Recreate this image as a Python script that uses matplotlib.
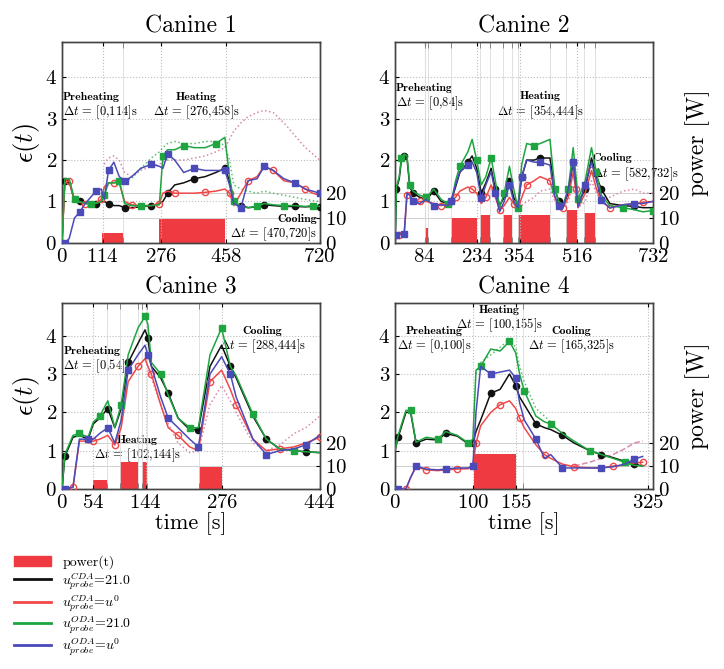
import numpy as np
import matplotlib
matplotlib.use('Agg')
import matplotlib.pyplot as plt
from matplotlib.patches import Patch
from matplotlib.lines import Line2D

plt.rcParams['font.family'] = 'serif'
plt.rcParams['font.serif'] = ['cmr10', 'DejaVu Serif']
plt.rcParams['mathtext.fontset'] = 'cm'
plt.rcParams['axes.unicode_minus'] = False
plt.rcParams['axes.formatter.use_mathtext'] = True

N = None

# ---------------- Canine 1 ----------------
t1 = [0, 8, 20, 35, 50, 65, 80, 95, 110, 118, 130, 145, 160, 175, 195, 220, 250, 272, 282, 295,
      315, 340, 370, 400, 430, 455, 468, 480, 500, 520, 545, 565, 590, 620, 650, 680, 700, 720]
cda21_1 = [0.0, 1.5, 1.5, 1.0, 1.0, 0.95, 0.95, 0.95, 1.0, 1.0, 0.95, 0.9, 0.9, 0.85, 0.85, 0.87, 0.9, 0.95, 1.0, 1.2,
           1.4, 1.45, 1.55, 1.6, 1.7, 1.8, 1.5, 0.95, 0.9, 0.85, 0.87, 0.92, 0.9, 0.88, 0.88, 0.87, 0.88, 0.87]
cdau0_1 = [0.0, 1.45, 1.5, 1.0, 0.98, 0.95, 0.95, 0.97, 1.05, 1.35, 1.45, 1.45, 1.45, 1.0, 0.92, 0.9, 0.9, 0.95, 1.2, 1.25,
           1.2, 1.2, 1.2, 1.22, 1.25, 1.3, 1.2, 0.9, 1.2, 1.5, 1.6, 1.85, 1.75, 1.5, 1.45, 1.3, 1.2, 1.15]
oda21_1 = [0.0, 1.55, 1.55, 1.05, 1.0, 0.95, 0.95, 0.95, 1.0, 1.15, 1.45, 1.45, 1.5, 0.95, 0.9, 0.9, 0.9, 0.92, 2.1, 2.25,
           2.25, 2.35, 2.3, 2.3, 2.4, 2.55, 1.6, 1.0, 0.88, 0.85, 0.88, 0.95, 0.92, 0.9, 0.9, 0.88, 0.9, 0.88]
odau0_1 = [0.0, 0.0, 0.1, 0.6, 0.75, 0.95, 1.1, 1.25, 1.3, 1.05, 1.75, 1.95, 1.6, 1.5, 1.6, 1.8, 1.9, 1.85, 1.8, 2.15,
           2.0, 1.7, 1.8, 1.75, 1.75, 1.75, 1.4, 0.95, 0.85, 1.5, 1.55, 1.85, 1.75, 1.55, 1.45, 1.3, 1.25, 1.2]
dot_red_1 = [N, N, N, N, N, N, N, N, N, 1.9, 2.05, 2.1, 2.0, 1.7, 1.6, 1.75, 1.85, 1.9, 1.95, 2.0,
             2.0, 2.0, 2.05, 2.1, 2.2, 2.3, 2.5, 2.7, 2.9, 3.05, 3.15, 3.2, 3.15, 2.9, 2.6, 2.3, 2.15, 2.0]
dot_grn_1 = [N, N, N, N, N, N, N, N, N, 1.3, 1.4, 1.5, 1.55, 1.5, 1.55, 1.8, 2.05, 2.2, 2.3, 2.4,
             2.45, 2.4, 2.4, 2.45, 2.45, 2.35, 2.0, 1.4, 1.3, 1.25, 1.2, 1.25, 1.2, 1.15, 1.1, 1.05, 1.02, 1.0]
bar_start_1 = [112, 272]
bar_end_1 = [170, 455]
bar_pow_1 = [4, 9.5]
xticks_1 = [0, 114, 276, 458, 720]
edges_1 = [114, 170, 276, 458]

# ---------------- Canine 2 ----------------
t2 = [0, 4, 12, 18, 26, 34, 42, 51, 70, 89, 110, 131, 150, 159, 172, 184, 207, 219, 232, 245,
      258, 273, 285, 297, 310, 325, 337, 349, 360, 374, 395, 412, 440, 454, 465, 477, 492, 506, 513, 520,
      540, 558, 572, 586, 610, 647, 680, 704, 732]
cda21_2 = [0.0, 1.3, 1.55, 2.0, 2.1, 2.05, 1.35, 1.2, 1.1, 1.05, 1.25, 1.0, 0.95, 1.0, 1.35, 1.7, 1.95, 2.1, 1.8, 1.2,
           1.45, 1.8, 1.3, 0.9, 1.1, 1.5, 1.1, 0.9, 1.6, 2.0, 2.0, 2.05, 2.05, 1.3, 1.0, 0.9, 1.2, 1.95, 1.5, 0.95,
           1.3, 2.05, 1.6, 1.3, 0.95, 0.9, 0.88, 0.85, 0.85]
cdau0_2 = [0.0, 0.2, 0.2, 0.2, 0.2, 1.15, 1.2, 1.0, 1.0, 1.0, 0.95, 0.9, 0.95, 1.0, 1.1, 1.25, 1.35, 1.3, 1.2, 0.95,
           1.1, 1.4, 1.1, 0.8, 0.9, 1.1, 0.95, 0.8, 1.1, 1.4, 1.5, 1.6, 1.5, 1.1, 0.9, 0.85, 1.1, 1.7, 1.3, 0.85,
           1.2, 1.75, 1.3, 1.0, 0.85, 0.92, 0.95, 0.98, 1.0]
oda21_2 = [0.0, 1.35, 1.6, 2.05, 2.15, 2.1, 1.4, 1.25, 1.15, 1.1, 1.3, 1.05, 0.95, 0.95, 1.5, 1.85, 2.2, 2.5, 2.0, 1.4,
           1.6, 2.05, 1.5, 0.85, 1.2, 1.85, 1.3, 0.85, 1.9, 2.4, 2.35, 2.4, 2.5, 1.3, 1.0, 0.92, 1.3, 2.3, 1.7, 1.05,
           1.5, 2.3, 1.7, 1.15, 0.9, 0.85, 0.8, 0.75, 0.78]
odau0_2 = [0.0, 0.2, 0.22, 0.22, 0.22, 1.2, 1.15, 1.0, 0.95, 1.05, 0.9, 0.92, 0.9, 1.0, 1.4, 1.72, 1.88, 1.95, 1.7, 1.08,
           1.4, 1.72, 1.2, 0.75, 1.0, 1.4, 1.0, 0.84, 1.6, 2.0, 1.95, 1.95, 1.88, 1.12, 0.9, 0.84, 1.3, 1.95, 1.4, 0.87,
           1.4, 1.95, 1.5, 1.04, 0.84, 0.92, 0.95, 0.95, 1.0]
dot_red_2 = [N, N, N, N, N, N, N, N, N, N, N, N, N, N, N, N, N, N, N, N,
             N, N, N, N, N, N, N, N, 0.9, 1.0, 1.1, 1.25, 1.3, 1.0, 0.85, 0.85, 1.0, 1.4, 1.2, 0.85,
             1.0, 1.5, 1.2, 1.0, 1.1, 1.25, 1.3, 1.2, 1.2]
dot_grn_2 = [N] * 49
bar_start_2 = [85, 158, 240, 306, 350, 485, 537]
bar_end_2 = [95, 234, 270, 331, 440, 516, 569]
bar_pow_2 = [6, 10, 11, 11, 11, 13, 12]
xticks_2 = [84, 234, 354, 516, 732]
edges_2 = [85, 95, 158, 234, 240, 270, 306, 331, 350, 440, 485, 516, 537, 569]

# ---------------- Canine 3 ----------------
t3 = [0, 5, 19, 30, 45, 54, 65, 79, 91, 102, 114, 131, 143, 148, 154, 170, 183, 200, 220, 235,
      255, 275, 290, 300, 329, 352, 375, 400, 420, 444]
cda21_3 = [0.0, 0.85, 1.35, 1.4, 1.3, 1.7, 1.85, 2.1, 1.6, 2.1, 3.3, 3.8, 4.15, 3.95, 3.2, 2.9, 2.5, 1.85, 1.55, 1.55,
           3.2, 3.75, 3.2, 2.9, 1.9, 1.3, 1.05, 1.0, 0.97, 0.95]
cdau0_3 = [0.0, 0.0, 0.05, 1.25, 1.25, 1.25, 1.3, 1.4, 1.15, 1.6, 2.8, 3.2, 3.4, 3.2, 3.0, 2.2, 1.6, 1.4, 1.1, 1.0,
           2.8, 3.1, 2.6, 2.2, 1.3, 1.0, 1.05, 1.1, 1.2, 1.35]
oda21_3 = [0.0, 0.9, 1.4, 1.45, 1.35, 1.75, 1.9, 2.3, 1.6, 2.2, 3.5, 4.2, 4.5, 4.3, 3.3, 3.0, 2.45, 1.85, 1.6, 1.6,
           3.5, 4.2, 3.2, 2.95, 1.95, 1.3, 1.05, 1.0, 0.97, 0.95]
odau0_3 = [0.0, 0.0, 0.05, 1.3, 1.3, 1.3, 1.45, 1.6, 1.2, 1.8, 3.1, 3.5, 3.75, 3.5, 3.2, 2.4, 1.85, 1.6, 1.3, 1.1,
           3.0, 3.45, 3.0, 2.4, 1.3, 0.9, 1.0, 1.05, 1.15, 1.4]
dot_red_3 = [N, N, N, N, N, N, N, N, N, N, N, N, N, 3.1, 2.9, 2.2, 1.7, 1.2, 0.95, 1.0,
             2.2, 2.7, 2.3, 2.0, 1.2, 1.0, 1.15, 1.45, 1.6, 1.9]
dot_grn_3 = [N] * 30
bar_start_3 = [54, 100, 137, 236]
bar_end_3 = [78, 131, 146, 276]
bar_pow_3 = [4, 11.5, 11.5, 9.5]
xticks_3 = [0, 54, 144, 276, 444]
edges_3 = [54, 78, 100, 131, 137, 146, 236]

# ---------------- Canine 4 ----------------
t4 = [0, 4, 14, 20, 27, 40, 55, 65, 80, 94, 100, 104, 110, 123, 135, 147, 155, 160, 166, 181,
      192, 200, 215, 230, 250, 265, 280, 295, 307, 318]
cda21_4 = [1.0, 1.35, 2.0, 2.0, 1.2, 1.3, 1.28, 1.45, 1.38, 1.18, 1.2, 1.5, 1.8, 2.5, 2.6, 3.0, 2.7, 2.4, 2.2, 1.7,
           1.6, 1.55, 1.4, 1.2, 1.0, 0.9, 0.82, 0.72, 0.65, 0.6]
cdau0_4 = [0.0, 0.0, 0.0, 0.3, 0.58, 0.5, 0.48, 0.5, 0.52, 0.53, 0.6, 1.2, 1.65, 2.0, 2.2, 2.3, 2.1, 1.85, 1.6, 1.15,
           0.9, 0.8, 0.65, 0.58, 0.55, 0.55, 0.6, 0.62, 0.68, 0.7]
oda21_4 = [1.0, 1.4, 2.05, 2.05, 1.22, 1.35, 1.3, 1.5, 1.4, 1.2, 1.3, 3.1, 3.2, 3.65, 3.6, 3.85, 3.55, 3.0, 2.55, 1.9,
           1.75, 1.7, 1.45, 1.25, 1.0, 0.9, 0.8, 0.7, 0.62, 0.6]
odau0_4 = [0.0, 0.0, 0.0, 0.3, 0.6, 0.52, 0.5, 0.52, 0.55, 0.55, 0.6, 2.0, 3.2, 3.0, 3.05, 3.1, 2.9, 2.25, 1.8, 1.3,
           0.8, 0.9, 0.55, 0.55, 0.55, 0.55, 0.58, 0.65, 0.78, 0.85]
dot_red_4 = [N, N, N, N, N, N, N, N, N, N, N, N, N, N, N, N, N, N, N, N,
             N, N, N, 0.6, 0.7, 0.8, 0.9, 1.05, 1.2, 1.25]
dot_grn_4 = [N, N, N, N, N, N, N, N, N, N, N, 3.0, 3.3, 3.5, 3.7, 3.9, 3.7, 3.2, 2.8, 2.1,
             1.9, 1.75, N, N, N, N, N, N, N, N]
bar_start_4 = [102]
bar_end_4 = [156]
bar_pow_4 = [15]
xticks_4 = [0, 100, 155, 325]
edges_4 = [100, 155, 165]

C_BLACK = '#111111'
C_RED = '#f04848'
C_GREEN = '#1ea540'
C_BLUE = '#4a4ab8'
C_BAR = '#ee3a40'
C_PINK = '#d98aae'
C_GDOT = '#5cc070'


def phase_text(ax, x, y, title, dt, ha='left'):
    ax.text(x, y, title, fontfamily='cmb10', fontsize=8.5, ha=ha, va='bottom', zorder=1)
    ax.text(x, y - 0.04, dt, fontsize=9, ha=ha, va='top', zorder=1)


def draw_panel(ax, title, t, series, dots, bars, xlim, xticks, edges, show_left, show_right, show_time):
    ax2 = ax.twinx()
    ax.set_zorder(ax2.get_zorder() + 1)
    ax.patch.set_visible(False)

    starts, ends, pows = bars
    ax2.bar(starts, pows, width=np.array(ends) - np.array(starts), align='edge',
            color=C_BAR, edgecolor='none', zorder=2)
    ax2.set_ylim(0, 80)
    ax2.set_yticks([0, 10, 20])
    ax2.grid(axis='y', color='#d0d0d0', lw=0.7, ls='-', zorder=0)
    ax2.tick_params(axis='y', direction='in', labelsize=15, length=3)
    if show_right:
        ax2.set_ylabel('power [W]', fontsize=17, labelpad=4)

    t = np.array(t, dtype=float)
    for vals, col, ls in dots:
        ax.plot(t, np.array(vals, dtype=float), color=col, ls=ls, lw=1.1, zorder=3)

    styles = [
        (C_BLACK, 'o', C_BLACK),
        (C_RED, 'o', 'none'),
        (C_GREEN, 's', C_GREEN),
        (C_BLUE, 's', C_BLUE),
    ]
    for i, (vals, (col, mk, mfc)) in enumerate(zip(series, styles)):
        ax.plot(t, np.array(vals, dtype=float), color=col, lw=1.1, marker=mk, ms=4.5,
                mfc=mfc, mec=col, mew=1.0, markevery=(i % 3 + 1, 3), zorder=4 + i)

    ax.set_xlim(*xlim)
    ax.set_ylim(0, 4.85)
    ax.set_xticks(xticks)
    ax.set_xticks(edges, minor=True)
    ax.set_yticks([0, 1, 2, 3, 4])
    ax.grid(which='major', color='#bdbdbd', ls=':', lw=0.8)
    ax.grid(which='minor', axis='x', color='#dcdcdc', ls='-', lw=0.6)
    ax.tick_params(which='both', direction='in', top=True, labelsize=15, length=3)
    ax.tick_params(which='minor', length=4, color='#777777')
    ax.set_title(title, fontsize=17, pad=7)
    if show_left:
        ax.set_ylabel(r'$\epsilon(t)$', fontsize=19, labelpad=2)
    if show_time:
        ax.set_xlabel('time [s]', fontsize=16, labelpad=0)
    for a in (ax, ax2):
        for s in a.spines.values():
            s.set_color('#444444')
            s.set_linewidth(1.0)
    return ax


fig = plt.figure(figsize=(7.24, 6.69), dpi=100)
w = 0.356
ax1 = fig.add_axes([0.0856, 0.637, w, 0.300])
ax2 = fig.add_axes([0.5456, 0.637, w, 0.300])
ax3 = fig.add_axes([0.0856, 0.269, w, 0.278])
ax4 = fig.add_axes([0.5456, 0.269, w, 0.278])

draw_panel(ax1, 'Canine 1', t1, [cda21_1, cdau0_1, oda21_1, odau0_1],
           [(dot_red_1, C_PINK, ':'), (dot_grn_1, C_GDOT, ':')],
           (bar_start_1, bar_end_1, bar_pow_1), (0, 720), xticks_1, edges_1, True, False, False)
draw_panel(ax2, 'Canine 2', t2, [cda21_2, cdau0_2, oda21_2, odau0_2],
           [(dot_red_2, C_PINK, ':'), (dot_grn_2, C_GDOT, ':')],
           (bar_start_2, bar_end_2, bar_pow_2), (0, 732), xticks_2, edges_2, False, True, False)
draw_panel(ax3, 'Canine 3', t3, [cda21_3, cdau0_3, oda21_3, odau0_3],
           [(dot_red_3, C_PINK, ':'), (dot_grn_3, C_GDOT, ':')],
           (bar_start_3, bar_end_3, bar_pow_3), (0, 444), xticks_3, edges_3, True, False, True)
draw_panel(ax4, 'Canine 4', t4, [cda21_4, cdau0_4, oda21_4, odau0_4],
           [(dot_red_4, C_PINK, '--'), (dot_grn_4, C_GDOT, ':')],
           (bar_start_4, bar_end_4, bar_pow_4), (0, 331), xticks_4, edges_4, False, True, True)

# phase annotations
phase_text(ax1, 2, 3.4, 'Preheating', r'$\Delta t\,=\,[0{,}114]$s')
phase_text(ax1, 375, 3.4, 'Heating', r'$\Delta t\,=\,[276{,}458]$s', ha='center')
phase_text(ax1, 712, 0.45, 'Cooling', r'$\Delta t\,=\,[470{,}720]$s', ha='right')
phase_text(ax2, 2, 3.62, 'Preheating', r'$\Delta t\,=\,[0{,}84]$s')
phase_text(ax2, 412, 3.42, 'Heating', r'$\Delta t\,=\,[354{,}444]$s', ha='center')
phase_text(ax2, 560, 1.92, 'Cooling', r'$\Delta t\,=\,[582{,}732]$s')
phase_text(ax3, 2, 3.48, 'Preheating', r'$\Delta t\,=\,[0{,}54]$s')
phase_text(ax3, 130, 1.15, 'Heating', r'$\Delta t\,=\,[102{,}144]$s', ha='center')
phase_text(ax3, 345, 4.0, 'Cooling', r'$\Delta t\,=\,[288{,}444]$s', ha='center')
phase_text(ax4, 50, 3.98, 'Preheating', r'$\Delta t\,=\,[0{,}100]$s', ha='center')
phase_text(ax4, 134, 4.53, 'Heating', r'$\Delta t\,=\,[100{,}155]$s', ha='center')
phase_text(ax4, 226, 3.98, 'Cooling', r'$\Delta t\,=\,[165{,}325]$s', ha='center')

handles = [
    Patch(color=C_BAR),
    Line2D([], [], color=C_BLACK, lw=2),
    Line2D([], [], color=C_RED, lw=2),
    Line2D([], [], color=C_GREEN, lw=2),
    Line2D([], [], color=C_BLUE, lw=2),
]
labels = [
    'power(t)',
    r'$u^{CDA}_{probe}$=21.0',
    r'$u^{CDA}_{probe}$=$u^0$',
    r'$u^{ODA}_{probe}$=21.0',
    r'$u^{ODA}_{probe}$=$u^0$',
]
fig.legend(handles, labels, loc='upper left', bbox_to_anchor=(0.015, 0.174), frameon=False,
           fontsize=10, handlelength=2.7, labelspacing=0.05, handletextpad=0.8,
           borderaxespad=0.0, borderpad=0.2)

fig.savefig('out.png', dpi=100)
